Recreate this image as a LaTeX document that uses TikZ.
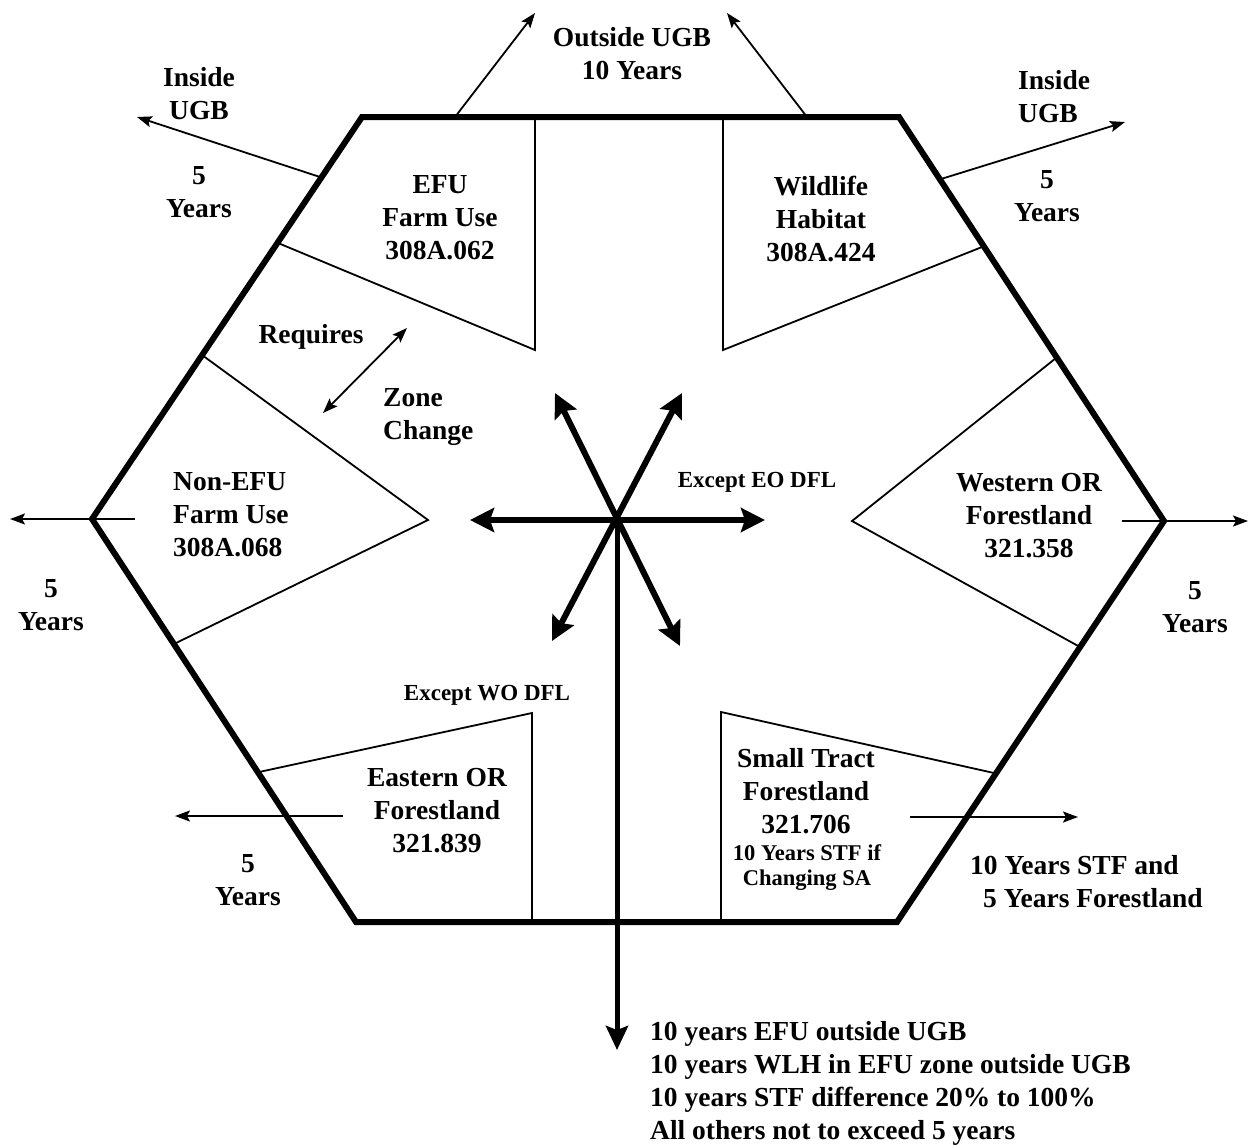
\documentclass[tikz,border=0pt]{standalone}
\usepackage{fontspec}
\setmainfont{Liberation Serif}
\usetikzlibrary{arrows.meta}
\newcommand{\hexbig}{\fontsize{27.5}{33}\selectfont\bfseries}
\newcommand{\hexsmall}{\fontsize{23}{24}\selectfont\bfseries}
\newcommand{\hexnote}{\fontsize{22.5}{25}\selectfont\bfseries}
\tikzset{
  hexline/.style={line width=6pt, line join=miter},
  thinline/.style={line width=1.8pt},
  thinarrow/.style={line width=1.8pt, -{Stealth[length=15pt,width=11pt,inset=3pt]}},
  thinboth/.style={line width=1.8pt, {Stealth[length=15pt,width=11pt,inset=3pt]}-{Stealth[length=15pt,width=11pt,inset=3pt]}},
  bigboth/.style={line width=6pt, {Stealth[length=24pt,width=24pt,inset=4pt]}-{Stealth[length=24pt,width=24pt,inset=4pt]}},
  bigarrow/.style={line width=5pt, -{Stealth[length=24pt,width=22pt,inset=4pt]}},
  lbl/.style={font=\hexbig, align=center, inner sep=0pt},
  lblsmall/.style={font=\hexsmall, align=center, inner sep=0pt},
  lblnote/.style={font=\hexnote, align=center, inner sep=0pt},
}
\begin{document}
\begin{tikzpicture}[x=1pt,y=-1pt]
\useasboundingbox (0,0) rectangle (1249,1144);
% hexagon vertices
\coordinate (TL) at (362,117);
\coordinate (TR) at (899,117);
\coordinate (R)  at (1164,521);
\coordinate (BR) at (897,922);
\coordinate (BL) at (356,922);
\coordinate (L)  at (92,519);
\draw[hexline] (TL) -- (TR) -- (R) -- (BR) -- (BL) -- (L) -- cycle;

% inner region outlines
\coordinate (efuTop) at (535,117);
\coordinate (efuTip) at (535,350);
\coordinate (efuEdge) at (278,243);
\draw[thinline] (efuTop) -- (efuTip) -- (efuEdge);
\coordinate (wlhTop) at (723,117);
\coordinate (wlhTip) at (723,350);
\coordinate (wlhEdge) at (982,247);
\draw[thinline] (wlhTop) -- (wlhTip) -- (wlhEdge);
\coordinate (nefuUp) at (202,355);
\coordinate (nefuTip) at (428,520);
\coordinate (nefuLo) at (176,643);
\draw[thinline] (nefuUp) -- (nefuTip) -- (nefuLo);
\coordinate (wofUp) at (1056,358);
\coordinate (wofTip) at (852,521);
\coordinate (wofLo) at (1080,647);
\draw[thinline] (wofUp) -- (wofTip) -- (wofLo);
\coordinate (eofBot) at (532,922);
\coordinate (eofTop) at (532,713);
\coordinate (eofEdge) at (259,772);
\draw[thinline] (eofBot) -- (eofTop) -- (eofEdge);
\coordinate (stfBot) at (721,922);
\coordinate (stfTop) at (721,712);
\coordinate (stfEdge) at (994,773);
\draw[thinline] (stfBot) -- (stfTop) -- (stfEdge);

% outer arrows
\coordinate (o1s) at (455,117); \coordinate (o1e) at (535,13);
\coordinate (o2s) at (807,117); \coordinate (o2e) at (727,13);
\coordinate (i1s) at (320,177); \coordinate (i1e) at (137,117);
\coordinate (i2s) at (941,179); \coordinate (i2e) at (1125,122);
\coordinate (l1s) at (135,519); \coordinate (l1e) at (10,519);
\coordinate (r1s) at (1122,521); \coordinate (r1e) at (1248,521);
\coordinate (e1s) at (343,816); \coordinate (e1e) at (175,816);
\coordinate (s1s) at (910,817); \coordinate (s1e) at (1078,817);
\draw[thinarrow] (o1s) -- (o1e);
\draw[thinarrow] (o2s) -- (o2e);
\draw[thinarrow] (i1s) -- (i1e);
\draw[thinarrow] (i2s) -- (i2e);
\draw[thinarrow] (l1s) -- (l1e);
\draw[thinarrow] (r1s) -- (r1e);
\draw[thinarrow] (e1s) -- (e1e);
\draw[thinarrow] (s1s) -- (s1e);
\coordinate (zcA) at (407,328); \coordinate (zcB) at (323,413);
\draw[thinboth] (zcA) -- (zcB);

% central star
\coordinate (C) at (617,520);
\coordinate (sW) at (470,520); \coordinate (sE) at (765,520);
\coordinate (sNW) at (555,393); \coordinate (sSE) at (680,646);
\coordinate (sNE) at (682,393); \coordinate (sSW) at (552,641);
\coordinate (sDown) at (617,1050);
\draw[bigboth] (sW) -- (sE);
\draw[bigboth] (sNW) -- (sSE);
\draw[bigboth] (sNE) -- (sSW);
\draw[bigarrow] (C) -- (sDown);

% labels
\node[lbl] (outUGB) at (632,54) {Outside UGB\\10 Years};
\node[lbl] (inL) at (199,94) {Inside\\UGB};
\node[lbl] (yrTL) at (199,192) {5\\Years};
\node[lbl] (efu) at (440,218) {EFU\\Farm Use\\308A.062};
\node[lbl] (wlh) at (821,219) {Wildlife\\Habitat\\308A.424};
\node[lbl, align=left, anchor=west] (inR) at (1018,97) {Inside\\UGB};
\node[lbl] (yrTR) at (1047,196) {5\\Years};
\node[lbl, anchor=base] (req) at (311,343) {Requires};
\node[lbl, align=left, anchor=west] (zone) at (383,417) {Zone\\Change};
\node[lblsmall, anchor=base] (eoDFL) at (757,487) {Except EO DFL};
\node[lbl, align=left, anchor=west] (nefu) at (173,515) {Non-EFU\\Farm Use\\308A.068};
\node[lbl] (wof) at (1029,516) {Western OR\\Forestland\\321.358};
\node[lbl] (yrL) at (51,605) {5\\Years};
\node[lbl] (yrR) at (1195,607) {5\\Years};
\node[lblsmall, anchor=base] (woDFL) at (487,700) {Except WO DFL};
\node[lbl] (eof) at (437,811) {Eastern OR\\Forestland\\321.839};
\node[lbl] (yrBL) at (248,880) {5\\Years};
\node[lbl] (stf) at (806,791) {Small Tract\\Forestland\\321.706};
\node[lblnote] (stfNote) at (807,868) {10 Years STF if\\Changing SA};
\node[lbl, align=left, anchor=west] (stfOut) at (970,882) {10 Years STF and\\\hspace*{13pt}5 Years Forestland};
\node[lbl, align=left, anchor=west] (list) at (650,1083) {10 years EFU outside UGB\\10 years WLH in EFU zone outside UGB\\10 years STF difference 20\% to 100\%\\All others not to exceed 5 years};
\end{tikzpicture}
\end{document}
